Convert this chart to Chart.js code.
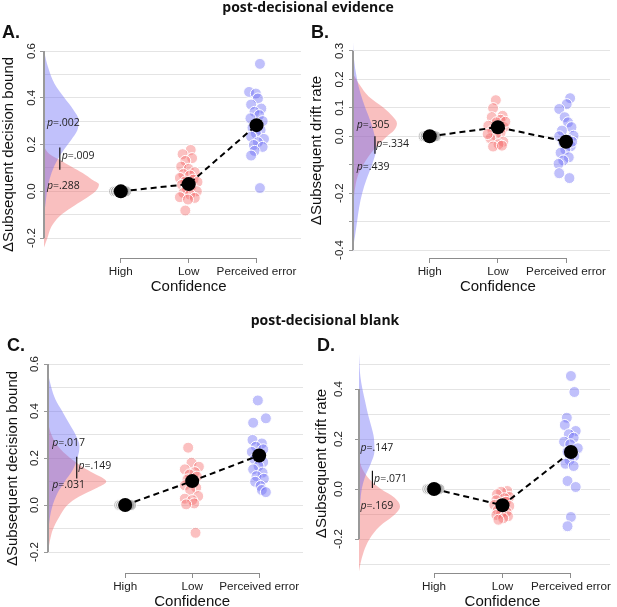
<!DOCTYPE html>
<html lang="en">
<head>
<meta charset="UTF-8" />
<title>Confidence and subsequent decision parameters</title>
<script src="https://cdn.jsdelivr.net/npm/chart.js"></script>
<style>
  body { margin: 0; background: #fff; }
  #wrap { position: relative; width: 617px; height: 607px; overflow: hidden; }
  canvas { position: absolute; }
  .head { position: absolute; font: bold 14px "Open Sans", sans-serif; line-height: 18px; color: #111; white-space: nowrap; transform: translateX(-50%); }
  .tag { position: absolute; font: bold 18px "Liberation Sans", Arial, sans-serif; line-height: 18px; color: #111; }
</style>
</head>
<body>
<div id="wrap">
  <canvas id="chartA" width="308" height="300" style="left:0;top:0"></canvas>
  <canvas id="chartB" width="309" height="300" style="left:308px;top:0"></canvas>
  <canvas id="chartC" width="310" height="307" style="left:0;top:300px"></canvas>
  <canvas id="chartD" width="309" height="307" style="left:308px;top:300px"></canvas>
  <div class="head" style="left:308px;top:-2px">post-decisional evidence</div>
  <div class="head" style="left:325px;top:311px">post-decisional blank</div>
  <div class="tag" style="left:2px;top:23px">A.</div>
  <div class="tag" style="left:311px;top:23px">B.</div>
  <div class="tag" style="left:7px;top:336px">C.</div>
  <div class="tag" style="left:317px;top:336px">D.</div>
</div>

<script>
  const categories = ['High', 'Low', 'Perceived error'];

  // A. post-decisional evidence, decision bound
  const aMeans = [0, 0.031, 0.283];
  const aHighX = [0.90, 0.93, 0.96, 0.99, 1.02, 1.05, 1.08];
  const aHighY = [0, 0, 0, 0, 0, 0, 0];
  const aLowX = [2.03, 1.91, 2.05, 1.95, 1.89, 2.00, 2.09, 1.92, 2.02, 1.87, 2.07, 1.95, 2.13, 1.90, 2.04, 1.97, 2.12, 1.92, 2.02, 1.87, 2.09, 1.99, 1.95];
  const aLowY = [0.177, 0.159, 0.142, 0.130, 0.106, 0.096, 0.082, 0.074, 0.068, 0.057, 0.050, 0.042, 0.040, 0.028, 0.021, 0.014, 0.000, -0.007, -0.014, -0.025, -0.028, -0.035, -0.082];
  const aErrX = [3.05, 2.89, 2.99, 3.02, 2.92, 3.07, 2.97, 3.04, 2.91, 3.09, 3.01, 2.94, 3.06, 2.99, 2.92, 3.11, 3.02, 2.96, 3.09, 2.97, 2.92, 3.05];
  const aErrY = [0.545, 0.425, 0.418, 0.397, 0.371, 0.354, 0.340, 0.326, 0.312, 0.300, 0.288, 0.272, 0.262, 0.248, 0.234, 0.224, 0.210, 0.198, 0.190, 0.173, 0.153, 0.014];
  const aBlueV = [0.60, 0.53, 0.46, 0.40, 0.35, 0.305, 0.26, 0.22, 0.20, 0.16, 0.11, 0.05, 0.0, -0.06, -0.10];
  const aBlueW = [0.0, 0.06, 0.155, 0.30, 0.43, 0.51, 0.49, 0.40, 0.35, 0.25, 0.155, 0.08, 0.045, 0.02, 0.0];
  const aRedV = [0.19, 0.16, 0.135, 0.106, 0.078, 0.05, 0.03, 0.0, -0.035, -0.07, -0.106, -0.15, -0.20, -0.24];
  const aRedW = [0.0, 0.08, 0.23, 0.40, 0.57, 0.71, 0.81, 0.76, 0.59, 0.40, 0.23, 0.11, 0.05, 0.0];
  const aTicks = [-0.2, -0.1, 0, 0.1, 0.2, 0.3, 0.4, 0.5, 0.6];
  const aTickLabels = ['-0.2', '', '0.0', '', '0.2', '', '0.4', '', '0.6'];
  const aP = ['.002', '.009', '.288'];

  // B. post-decisional evidence, drift rate
  const bMeans = [0, 0.032, -0.019];
  const bHighX = [0.91, 0.94, 0.97, 1.00, 1.03, 1.06, 1.09];
  const bHighY = [0, 0, 0, 0, 0, 0, 0];
  const bLowX = [1.97, 1.93, 2.07, 1.91, 2.04, 1.98, 1.86, 2.09, 1.92, 2.04, 1.97, 1.89, 2.08, 2.01, 1.93, 2.06, 1.85, 2.11];
  const bLowY = [0.127, 0.099, 0.072, 0.067, 0.058, 0.049, 0.037, 0.032, 0.020, 0.012, 0.002, -0.007, -0.019, -0.028, -0.036, -0.033, 0.008, 0.051];
  const bErrX = [3.06, 3.01, 2.90, 2.98, 3.03, 3.08, 2.94, 3.11, 2.90, 3.03, 2.96, 3.07, 2.99, 2.92, 3.04, 2.96, 2.89, 2.90, 3.05, 3.09];
  const bErrY = [0.134, 0.113, 0.096, 0.067, 0.049, 0.032, 0.020, 0.002, 0.000, -0.012, -0.023, -0.035, -0.047, -0.058, -0.074, -0.085, -0.097, -0.130, -0.147, -0.019];
  const bBlueV = [0.33, 0.28, 0.2, 0.15, 0.1, 0.05, 0.0, -0.04, -0.1, -0.15, -0.2, -0.25, -0.3, -0.35, -0.38, -0.41];
  const bBlueW = [0.0, 0.01, 0.06, 0.11, 0.18, 0.26, 0.32, 0.34, 0.28, 0.2, 0.135, 0.09, 0.06, 0.03, 0.01, 0.0];
  const bRedV = [0.22, 0.18, 0.14, 0.1, 0.07, 0.045, 0.02, 0.0, -0.04, -0.07, -0.1, -0.14, -0.2, -0.25];
  const bRedW = [0.0, 0.1, 0.23, 0.45, 0.58, 0.645, 0.6, 0.5, 0.33, 0.23, 0.15, 0.07, 0.02, 0.0];
  const bTicks = [-0.4, -0.3, -0.2, -0.1, 0, 0.1, 0.2, 0.3];
  const bTickLabels = ['-0.4', '', '-0.2', '', '0.0', '0.1', '0.2', '0.3'];
  const bP = ['.305', '.334', '.439'];

  // C. post-decisional blank, decision bound
  const cMeans = [0, 0.102, 0.211];
  const cHighX = [0.91, 0.94, 0.97, 1.00, 1.03, 1.06, 1.09];
  const cHighY = [0, 0, 0, 0, 0, 0, 0];
  const cLowX = [1.94, 1.99, 2.10, 1.89, 2.04, 1.96, 2.07, 1.93, 2.02, 1.89, 2.06, 1.97, 2.09, 1.89, 2.00, 2.03, 1.91, 2.05];
  const cLowY = [0.244, 0.180, 0.163, 0.152, 0.140, 0.130, 0.121, 0.109, 0.098, 0.084, 0.074, 0.064, 0.038, 0.027, 0.021, 0.007, 0.003, -0.118];
  const cErrX = [2.98, 3.10, 2.91, 2.90, 3.04, 2.95, 3.06, 2.89, 3.00, 2.93, 3.06, 2.99, 2.91, 3.05, 2.96, 3.07, 2.94, 3.02, 3.04, 3.10];
  const cErrY = [0.445, 0.369, 0.350, 0.277, 0.262, 0.248, 0.237, 0.226, 0.209, 0.194, 0.183, 0.166, 0.152, 0.138, 0.123, 0.112, 0.099, 0.081, 0.064, 0.055];
  const cBlueV = [0.56, 0.5, 0.45, 0.4, 0.35, 0.3, 0.25, 0.2, 0.15, 0.1, 0.05, 0.0, -0.05, -0.1, -0.15];
  const cBlueW = [0.0, 0.05, 0.11, 0.21, 0.31, 0.41, 0.47, 0.44, 0.37, 0.25, 0.14, 0.07, 0.03, 0.01, 0.0];
  const cRedV = [0.35, 0.3, 0.25, 0.2, 0.163, 0.135, 0.1, 0.07, 0.035, 0.0, -0.05, -0.106, -0.15, -0.2];
  const cRedW = [0.0, 0.05, 0.15, 0.33, 0.51, 0.68, 0.87, 0.71, 0.46, 0.29, 0.17, 0.07, 0.03, 0.0];
  const cTicks = [-0.2, -0.1, 0, 0.1, 0.2, 0.3, 0.4, 0.5, 0.6];
  const cTickLabels = ['-0.2', '', '0.0', '', '0.2', '', '0.4', '', '0.6'];
  const cP = ['.017', '.149', '.031'];

  // D. post-decisional blank, drift rate
  const dMeans = [0, -0.065, 0.148];
  const dHighX = [0.90, 0.93, 0.96, 0.99, 1.02, 1.05, 1.08];
  const dHighY = [0, 0, 0, 0, 0, 0, 0];
  const dLowX = [2.07, 1.98, 1.92, 2.10, 2.03, 1.91, 2.05, 1.97, 1.88, 2.10, 2.00, 1.93, 2.06, 1.98, 1.91, 2.08, 2.01, 1.94];
  const dLowY = [-0.008, -0.011, -0.021, -0.032, -0.037, -0.045, -0.051, -0.059, -0.064, -0.068, -0.075, -0.085, -0.091, -0.099, -0.104, -0.109, -0.117, -0.123];
  const dErrX = [3.00, 3.05, 2.94, 2.91, 3.07, 2.97, 3.04, 2.90, 2.99, 3.10, 2.95, 3.05, 2.98, 2.92, 3.04, 2.95, 3.07, 3.00, 2.95];
  const dErrY = [0.452, 0.388, 0.285, 0.256, 0.232, 0.219, 0.205, 0.189, 0.179, 0.163, 0.149, 0.132, 0.115, 0.101, 0.092, 0.032, 0.008, -0.112, -0.149];
  const dBlueV = [0.54, 0.45, 0.4, 0.35, 0.3, 0.25, 0.2, 0.15, 0.1, 0.05, 0.0, -0.05, -0.1, -0.16];
  const dBlueW = [0.0, 0.02, 0.05, 0.09, 0.13, 0.18, 0.22, 0.225, 0.17, 0.09, 0.04, 0.02, 0.01, 0.0];
  const dRedV = [0.12, 0.08, 0.04, 0.0, -0.035, -0.07, -0.1, -0.15, -0.2, -0.25, -0.3, -0.33];
  const dRedW = [0.0, 0.05, 0.15, 0.32, 0.52, 0.60, 0.53, 0.30, 0.155, 0.07, 0.02, 0.0];
  const dTicks = [-0.3, -0.2, -0.1, 0, 0.1, 0.2, 0.3, 0.4, 0.5];
  const dTickLabels = ['', '-0.2', '', '0.0', '', '0.2', '', '0.4', ''];
  const dP = ['.147', '.071', '.169'];

  const SANS = '"Liberation Sans", Arial, sans-serif';
  const AXIS = '#8c8c8c';
  const pts = (xs, ys) => xs.map((x, i) => ({ x, y: ys[i] }));

  function makePanel(id, p) {
    const xmin = p.x[0];
    // half-violin: width is measured from the y axis (x = xmin)
    const dens = (vs, ws) => vs.map((v, i) => ({ x: xmin + ws[i], y: v }));
    const labels = p.tickLabels;
    const marked = labels.map((l, i) => p.allMarks || l !== '');

    const deco = {
      id: 'deco',
      afterDatasetsDraw(chart) {
        const { ctx, chartArea: a, scales: { x, y } } = chart;
        const lab = p.ticks.filter((t, i) => labels[i] !== '');
        ctx.save();
        ctx.strokeStyle = '#999';
        ctx.lineWidth = 2;
        ctx.beginPath();
        ctx.moveTo(a.left, y.getPixelForValue(Math.min(...lab)));
        ctx.lineTo(a.left, y.getPixelForValue(Math.max(...lab)));
        ctx.stroke();
        ctx.strokeStyle = AXIS;
        ctx.lineWidth = 1.2;
        ctx.beginPath();
        ctx.moveTo(x.getPixelForValue(1), a.bottom + 0.5);
        ctx.lineTo(x.getPixelForValue(3), a.bottom + 0.5);
        ctx.stroke();

        ctx.fillStyle = '#111';
        ctx.font = '15px ' + SANS;
        ctx.textAlign = 'center';
        ctx.textBaseline = 'middle';
        ctx.fillText('Confidence', x.getPixelForValue(2), a.bottom + 29);

        // p-values next to the posteriors
        const q = p.pPos;
        const pText = (val, xv, yv) => {
          let px = x.getPixelForValue(xv);
          const py = y.getPixelForValue(yv);
          ctx.textAlign = 'left';
          ctx.fillStyle = '#222';
          ctx.font = 'italic 10.5px "Open Sans", sans-serif';
          ctx.fillText('p', px, py);
          px += ctx.measureText('p').width;
          ctx.font = '10.5px "Open Sans", sans-serif';
          ctx.fillText('=' + val, px, py);
        };
        pText(p.pvals[0], q.x, q.topY);
        pText(p.pvals[2], q.x, q.botY);
        pText(p.pvals[1], q.diffX, q.diffY);
        ctx.strokeStyle = '#111';
        ctx.lineWidth = 1.2;
        ctx.beginPath();
        ctx.moveTo(x.getPixelForValue(q.barX), y.getPixelForValue(q.bar[0]));
        ctx.lineTo(x.getPixelForValue(q.barX), y.getPixelForValue(q.bar[1]));
        ctx.stroke();
        ctx.restore();
      }
    };

    const dot = (data, color, order) => ({
      data, order,
      backgroundColor: color,
      borderColor: '#fff',
      borderWidth: 1,
      pointRadius: 5.5
    });
    const violin = (data, color, order) => ({
      type: 'line', indexAxis: 'y', data, order,
      showLine: true,
      fill: { value: xmin },
      backgroundColor: color,
      borderWidth: 0,
      pointRadius: 0,
      cubicInterpolationMode: 'monotone'
    });

    new Chart(document.getElementById(id), {
      type: 'scatter',
      data: {
        datasets: [
          {
            type: 'line', order: 1, showLine: true,
            data: p.means.map((m, i) => ({ x: i + 1, y: m })),
            borderColor: '#000', borderWidth: 2, borderDash: [6, 4],
            pointRadius: 7, pointBackgroundColor: '#000', pointBorderWidth: 0
          },
          dot(pts(...p.err), 'rgba(105,105,245,0.42)', 3),
          dot(pts(...p.low), 'rgba(245,105,105,0.42)', 4),
          dot(pts(...p.high), 'rgba(135,135,135,0.5)', 5),
          violin(dens(...p.blue), 'rgba(100,100,245,0.40)', 9),
          violin(dens(...p.red), 'rgba(240,95,95,0.40)', 10)
        ]
      },
      options: {
        responsive: false,
        animation: false,
        events: [],
        layout: { padding: { top: p.pad[0], right: p.pad[1], bottom: 0, left: 0 } },
        plugins: { legend: { display: false }, tooltip: { enabled: false } },
        scales: {
          x: {
            type: 'linear', min: p.x[0], max: p.x[1],
            afterBuildTicks: s => { s.ticks = [1, 2, 3].map(v => ({ value: v })); },
            afterFit: s => { s.height = p.xh; s.paddingLeft = 0; s.paddingRight = 0; },
            border: { display: false },
            grid: { drawOnChartArea: false, drawTicks: true, tickLength: 5, tickColor: AXIS },
            ticks: {
              callback: v => categories[Math.round(v) - 1],
              padding: 2, maxRotation: 0, autoSkip: false,
              color: '#222', font: { family: SANS, size: 11.7 }
            }
          },
          y: {
            type: 'linear', min: p.y[0], max: p.y[1],
            afterBuildTicks: s => { s.ticks = p.ticks.map(v => ({ value: v })); },
            afterFit: s => { s.width = p.yw; s.paddingTop = 0; s.paddingBottom = 0; },
            border: { display: false },
            grid: {
              color: '#e4e4e4', drawTicks: true, tickLength: 4,
              tickColor: c => marked[c.index] ? '#999' : 'rgba(0,0,0,0)'
            },
            ticks: {
              callback: (v, i) => labels[i],
              minRotation: 90, maxRotation: 90, crossAlign: 'center',
              padding: p.tickPad, autoSkip: false,
              color: '#222', font: { family: SANS, size: 11.5 }
            },
            title: {
              display: true, text: p.yTitle, color: '#111',
              font: { family: SANS, size: 15 },
              padding: { top: p.titlePad, bottom: 0 }
            }
          }
        }
      },
      plugins: [deco]
    });
  }

  makePanel('chartA', {
    yTitle: 'ΔSubsequent decision bound',
    means: aMeans, high: [aHighX, aHighY], low: [aLowX, aLowY], err: [aErrX, aErrY],
    blue: [aBlueV, aBlueW], red: [aRedV, aRedW],
    ticks: aTicks, tickLabels: aTickLabels, pvals: aP,
    x: [-0.132, 3.655], y: [-0.285, 0.6],
    pad: [51, 4], yw: 44, xh: 42, tickPad: -1.5, titlePad: 0,
    pPos: { x: -0.088, topY: 0.29, botY: 0.024, barX: 0.101, bar: [0.092, 0.187], diffX: 0.13, diffY: 0.149 }
  });

  makePanel('chartB', {
    yTitle: 'ΔSubsequent drift rate',
    means: bMeans, high: [bHighX, bHighY], low: [bLowX, bLowY], err: [bErrX, bErrY],
    blue: [bBlueV, bBlueW], red: [bRedV, bRedW],
    ticks: bTicks, tickLabels: bTickLabels, pvals: bP, allMarks: true,
    x: [-0.125, 3.645], y: [-0.428, 0.328],
    pad: [43, 5], yw: 45, xh: 42, tickPad: -0.5, titlePad: 0,
    pPos: { x: -0.07, topY: 0.041, botY: -0.108, barX: 0.197, bar: [-0.061, 0.0], diffX: 0.216, diffY: -0.028 }
  });

  makePanel('chartC', {
    yTitle: 'ΔSubsequent decision bound',
    means: cMeans, high: [cHighX, cHighY], low: [cLowX, cLowY], err: [cErrX, cErrY],
    blue: [cBlueV, cBlueW], red: [cRedV, cRedW],
    ticks: cTicks, tickLabels: cTickLabels, pvals: cP,
    x: [-0.152, 3.654], y: [-0.289, 0.6],
    pad: [64, 2], yw: 48, xh: 34, tickPad: -0.5, titlePad: 4,
    pPos: { x: -0.089, topY: 0.262, botY: 0.085, barX: 0.277, bar: [0.113, 0.206], diffX: 0.302, diffY: 0.166 }
  });

  makePanel('chartD', {
    yTitle: 'ΔSubsequent drift rate',
    means: dMeans, high: [dHighX, dHighY], low: [dLowX, dLowY], err: [dErrX, dErrY],
    blue: [dBlueV, dBlueW], red: [dRedV, dRedW],
    ticks: dTicks, tickLabels: dTickLabels, pvals: dP,
    x: [-0.097, 3.571], y: [-0.336, 0.54],
    pad: [54, 5], yw: 51, xh: 34, tickPad: 6.5, titlePad: 5,
    pPos: { x: -0.075, topY: 0.164, botY: -0.067, barX: 0.099, bar: [0.004, 0.073], diffX: 0.124, diffY: 0.041 }
  });
</script>
</body>
</html>
